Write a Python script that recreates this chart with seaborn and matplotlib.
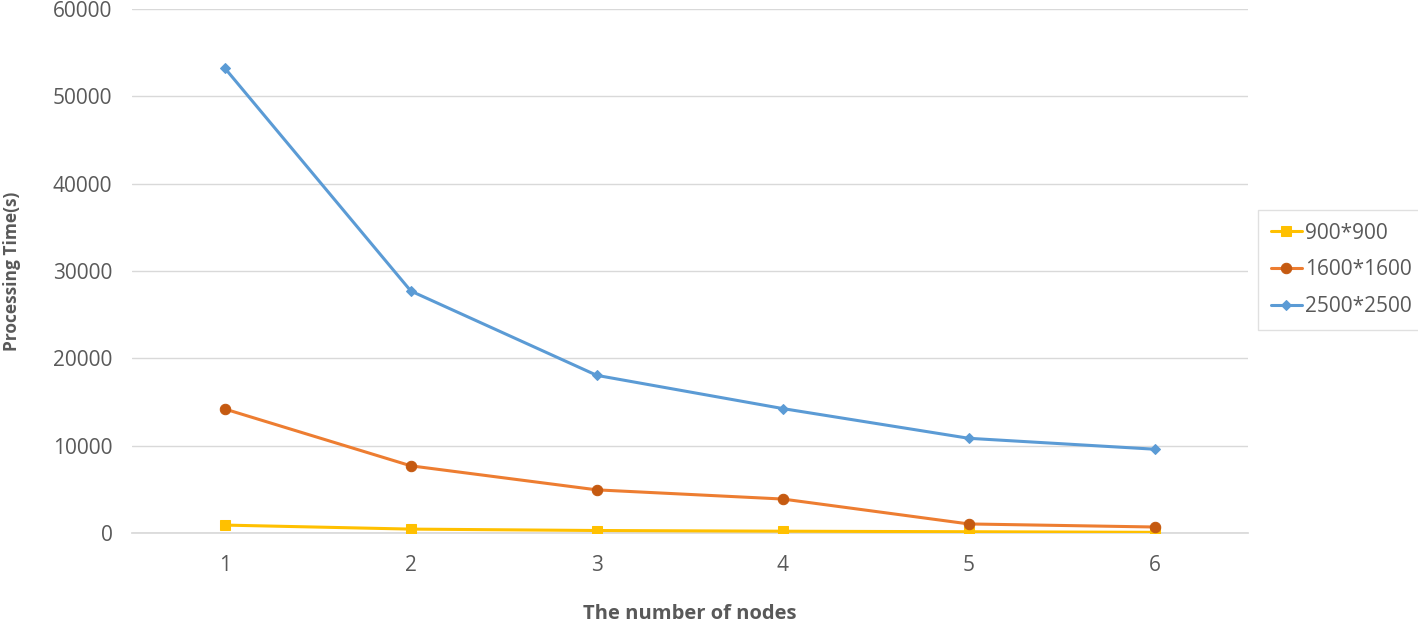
import matplotlib
matplotlib.use("Agg")
import matplotlib.pyplot as plt
import seaborn as sns
import pandas as pd

nodes = [1, 2, 3, 4, 5, 6]
series_names = ["900*900", "1600*1600", "2500*2500"]
t_900 = [920, 460, 300, 220, 160, 90]
t_1600 = [14200, 7700, 4950, 3900, 1050, 700]
t_2500 = [53200, 27700, 18050, 14250, 10850, 9600]
y_ticks = [0, 10000, 20000, 30000, 40000, 50000, 60000]

sns.set_theme(style="white")
plt.rcParams["font.family"] = ["Open Sans", "DejaVu Sans"]

rows = []
for name, vals in zip(series_names, [t_900, t_1600, t_2500]):
    for n, v in zip(nodes, vals):
        rows.append({"nodes": n, "time": v, "size": name})
df = pd.DataFrame(rows)

fig = plt.figure(figsize=(14.18, 6.25), dpi=100)
ax = fig.add_axes([0.093, 0.147, 0.787, 0.839])

line_colors = {"900*900": "#FFC000", "1600*1600": "#ED7D31", "2500*2500": "#5B9BD5"}
marker_colors = {"900*900": "#FFC000", "1600*1600": "#C55A11", "2500*2500": "#5B9BD5"}
markers = {"900*900": "s", "1600*1600": "o", "2500*2500": "D"}
msizes = {"900*900": 7.5, "1600*1600": 7.5, "2500*2500": 5.5}

for name in series_names:
    sub = df[df["size"] == name]
    sns.lineplot(data=sub, x="nodes", y="time", ax=ax, color=line_colors[name],
                 linewidth=2.2, marker=markers[name], markersize=msizes[name],
                 markerfacecolor=marker_colors[name], markeredgecolor=marker_colors[name],
                 label=name, zorder=3)

ax.set_xlim(0.5, 6.5)
ax.set_ylim(0, 60000)
ax.set_yticks(y_ticks)
ax.set_xticks(nodes)
ax.set_xticklabels([str(n) for n in nodes])
ax.yaxis.grid(True, color="#D9D9D9", linewidth=1)
ax.xaxis.grid(False)
for s in ["top", "right", "left"]:
    ax.spines[s].set_visible(False)
ax.spines["bottom"].set_color("#D9D9D9")
ax.tick_params(axis="both", colors="#595959", labelsize=15, length=0)
ax.tick_params(axis="y", pad=14)
ax.tick_params(axis="x", pad=16)
ax.set_xlabel("The number of nodes", fontsize=14.5, fontweight="bold", color="#595959", labelpad=20)
ax.set_ylabel("Processing Time(s)", fontsize=12.5, fontweight="bold", color="#595959")
ax.yaxis.set_label_coords(-0.099, 0.5)

leg = ax.legend(loc="center left", bbox_to_anchor=(1.0, 0.502), frameon=True, fontsize=15,
                handlelength=1.5, handletextpad=0.15, labelspacing=0.75, borderpad=0.6,
                borderaxespad=0.5, fancybox=False, labelcolor="#595959")
leg.get_frame().set_edgecolor("#D9D9D9")
leg.get_frame().set_linewidth(1)

fig.savefig("out.png", dpi=100)
